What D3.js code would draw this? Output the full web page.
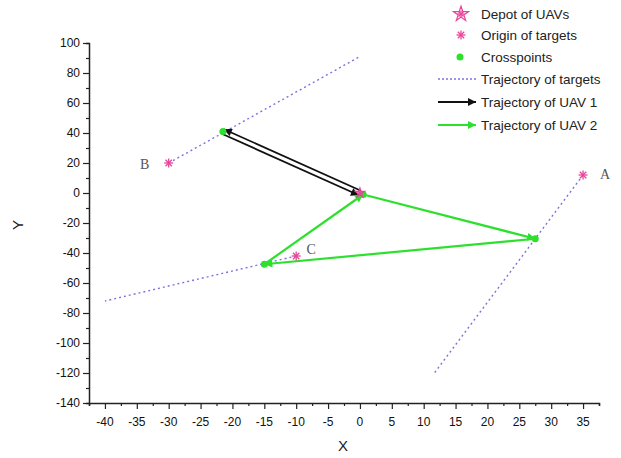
<!DOCTYPE html>
<html><head><meta charset="utf-8">
<script src="https://cdn.jsdelivr.net/npm/d3@7"></script>
<style>body{margin:0;background:#fff}svg{display:block}</style>
</head><body>
<svg id="c" width="621" height="458"></svg>
<script>
// ---- data ----
const xTicks = [-40,-35,-30,-25,-20,-15,-10,-5,0,5,10,15,20,25,30,35];
const yTicks = [100,80,60,40,20,0,-20,-40,-60,-80,-100,-120,-140];
const targetNames = ["A","B","C"];
const originX = [35, -30, -10];
const originY = [12, 20, -42];
const trajEndX = [11.5, 0, -40];
const trajEndY = [-121, 91, -72];
const crossX = [27.5, -21.5, -15, 0.5];
const crossY = [-30.5, 41, -47.5, -1];
const depotX = [0];
const depotY = [0];
const uav1X = [0, -21.5, 0];
const uav1Y = [0, 41, 0];
const uav2X = [0.5, 27.5, -15, 0.5];
const uav2Y = [-1, -30.5, -47.5, -1];
const legendLabels = ["Depot of UAVs","Origin of targets","Crosspoints","Trajectory of targets","Trajectory of UAV 1","Trajectory of UAV 2"];

// ---- chart ----
const pink = "#e8459b", green = "#2ee02e", blue = "#7b74e0";
const svg = d3.select("#c");
const x = d3.scaleLinear().domain([-42.5, 37.5]).range([89, 599]);
const y = d3.scaleLinear().domain([-140, 100]).range([403, 43]);

const defs = svg.append("defs");
function marker(id, color){
  defs.append("marker").attr("id", id).attr("viewBox","0 0 10 10")
    .attr("refX", 10).attr("refY", 5).attr("markerWidth", 10).attr("markerHeight", 8)
    .attr("markerUnits","userSpaceOnUse").attr("orient","auto")
    .append("path").attr("d","M0,0 L10,5 L0,10 Z").attr("fill", color);
}
marker("ab","#111"); marker("ag", green);

// axes
const fontAx = "Liberation Sans, Arial, sans-serif";
const gx = svg.append("g").attr("transform","translate(0,403)");
gx.call(d3.axisBottom(x).tickValues(d3.range(-42.5, 37.6, 2.5)).tickSize(3).tickFormat(""));
gx.call(g=>g.selectAll(".tick").filter(d=>xTicks.includes(d)).select("line").attr("y2",6));
gx.append("g").selectAll("text").data(xTicks).join("text")
  .attr("x", d=>x(d)).attr("y", 23).attr("text-anchor","middle")
  .attr("font-family", fontAx).attr("font-size", 12).attr("fill","#111").text(d=>d);
const gy = svg.append("g").attr("transform","translate(89,0)");
gy.call(d3.axisLeft(y).tickValues(d3.range(-140, 101, 10)).tickSize(3).tickFormat(""));
gy.call(g=>g.selectAll(".tick").filter(d=>yTicks.includes(d)).select("line").attr("x2",-6));
gy.append("g").selectAll("text").data(yTicks).join("text")
  .attr("x", -9).attr("y", d=>y(d)+4).attr("text-anchor","end")
  .attr("font-family", fontAx).attr("font-size", 12).attr("fill","#111").text(d=>d);
svg.selectAll(".domain").attr("stroke","#222").attr("stroke-width",1.5);
svg.selectAll(".tick line").attr("stroke","#222").attr("stroke-width",1.2);

svg.append("text").attr("x", 343).attr("y", 451).attr("text-anchor","middle")
  .attr("font-family", fontAx).attr("font-size", 15).attr("fill","#222").text("X");
svg.append("text").attr("transform","translate(23,225) rotate(-90)").attr("text-anchor","middle")
  .attr("font-family", fontAx).attr("font-size", 15).attr("fill","#222").text("Y");

// target trajectories
originX.forEach((ox,i)=>{
  svg.append("line").attr("x1", x(ox)).attr("y1", y(originY[i])).attr("x2", x(trajEndX[i])).attr("y2", y(trajEndY[i]))
    .attr("stroke", blue).attr("stroke-width", 1.4).attr("stroke-dasharray","2,3");
});

// UAV 1 (out and back, drawn side by side)
function offsetLine(x1,y1,x2,y2,off,color,mk,w){
  const dx=x2-x1, dy=y2-y1, L=Math.hypot(dx,dy), nx=-dy/L*off, ny=dx/L*off;
  svg.append("line").attr("x1",x1+nx).attr("y1",y1+ny).attr("x2",x2+nx).attr("y2",y2+ny)
    .attr("stroke",color).attr("stroke-width",w).attr("marker-end",`url(#${mk})`);
}
for(let i=0;i<uav1X.length-1;i++){
  offsetLine(x(uav1X[i]),y(uav1Y[i]),x(uav1X[i+1]),y(uav1Y[i+1]),2.5,"#111","ab",1.8);
}
// UAV 2
for(let i=0;i<uav2X.length-1;i++){
  offsetLine(x(uav2X[i]),y(uav2Y[i]),x(uav2X[i+1]),y(uav2Y[i+1]),0,green,"ag",2.2);
}

// crosspoints
svg.selectAll("circle.cp").data(crossX).join("circle").attr("class","cp")
  .attr("cx",(d)=>x(d)).attr("cy",(d,i)=>y(crossY[i])).attr("r",3.5).attr("fill",green);

// asterisk symbol
function asterisk(g, cx, cy, r){
  const a = g.append("g").attr("transform",`translate(${cx},${cy})`).attr("stroke",pink).attr("stroke-width",1.3);
  for(let k=0;k<4;k++){
    const ang = k*Math.PI/4;
    a.append("line").attr("x1",-r*Math.cos(ang)).attr("y1",-r*Math.sin(ang)).attr("x2",r*Math.cos(ang)).attr("y2",r*Math.sin(ang));
  }
}
function star(g, cx, cy, r){
  g.append("path").attr("transform",`translate(${cx},${cy})`)
    .attr("d", d3.symbol(d3.symbolStar, r*r*1.1)()).attr("fill","none").attr("stroke",pink).attr("stroke-width",1.2);
  asterisk(g, cx, cy, r*0.45);
}

// origins
originX.forEach((ox,i)=>{
  asterisk(svg, x(ox), y(originY[i]), 4.5);
});
const labelDx = [22, -24, 15], labelDy = [4, 6, -2];
targetNames.forEach((n,i)=>{
  svg.append("text").attr("x", x(originX[i])+labelDx[i]).attr("y", y(originY[i])+labelDy[i])
    .attr("text-anchor","middle").attr("font-family","Liberation Serif, Times New Roman, serif")
    .attr("font-size",14).attr("fill","#555").text(n);
});
// depot
depotX.forEach((dx,i)=> star(svg, x(dx), y(depotY[i]), 5));

// legend
const lg = svg.append("g");
const ly = [14, 35, 57, 79, 102, 125];
lg.selectAll("text").data(legendLabels).join("text")
  .attr("x", 481).attr("y",(d,i)=>ly[i]+5)
  .attr("font-family", fontAx).attr("font-size", 13.5).attr("fill","#222").text(d=>d);
star(lg, 461, ly[0], 8);
asterisk(lg, 461, ly[1], 4.5);
lg.append("circle").attr("cx",460).attr("cy",ly[2]).attr("r",3.5).attr("fill",green);
lg.append("line").attr("x1",438).attr("x2",476).attr("y1",ly[3]).attr("y2",ly[3])
  .attr("stroke",blue).attr("stroke-width",1.3).attr("stroke-dasharray","2,2");
lg.append("line").attr("x1",438).attr("x2",476).attr("y1",ly[4]).attr("y2",ly[4])
  .attr("stroke","#111").attr("stroke-width",1.8).attr("marker-end","url(#ab)");
lg.append("line").attr("x1",438).attr("x2",476).attr("y1",ly[5]).attr("y2",ly[5])
  .attr("stroke",green).attr("stroke-width",2.2).attr("marker-end","url(#ag)");
</script>
</body></html>
